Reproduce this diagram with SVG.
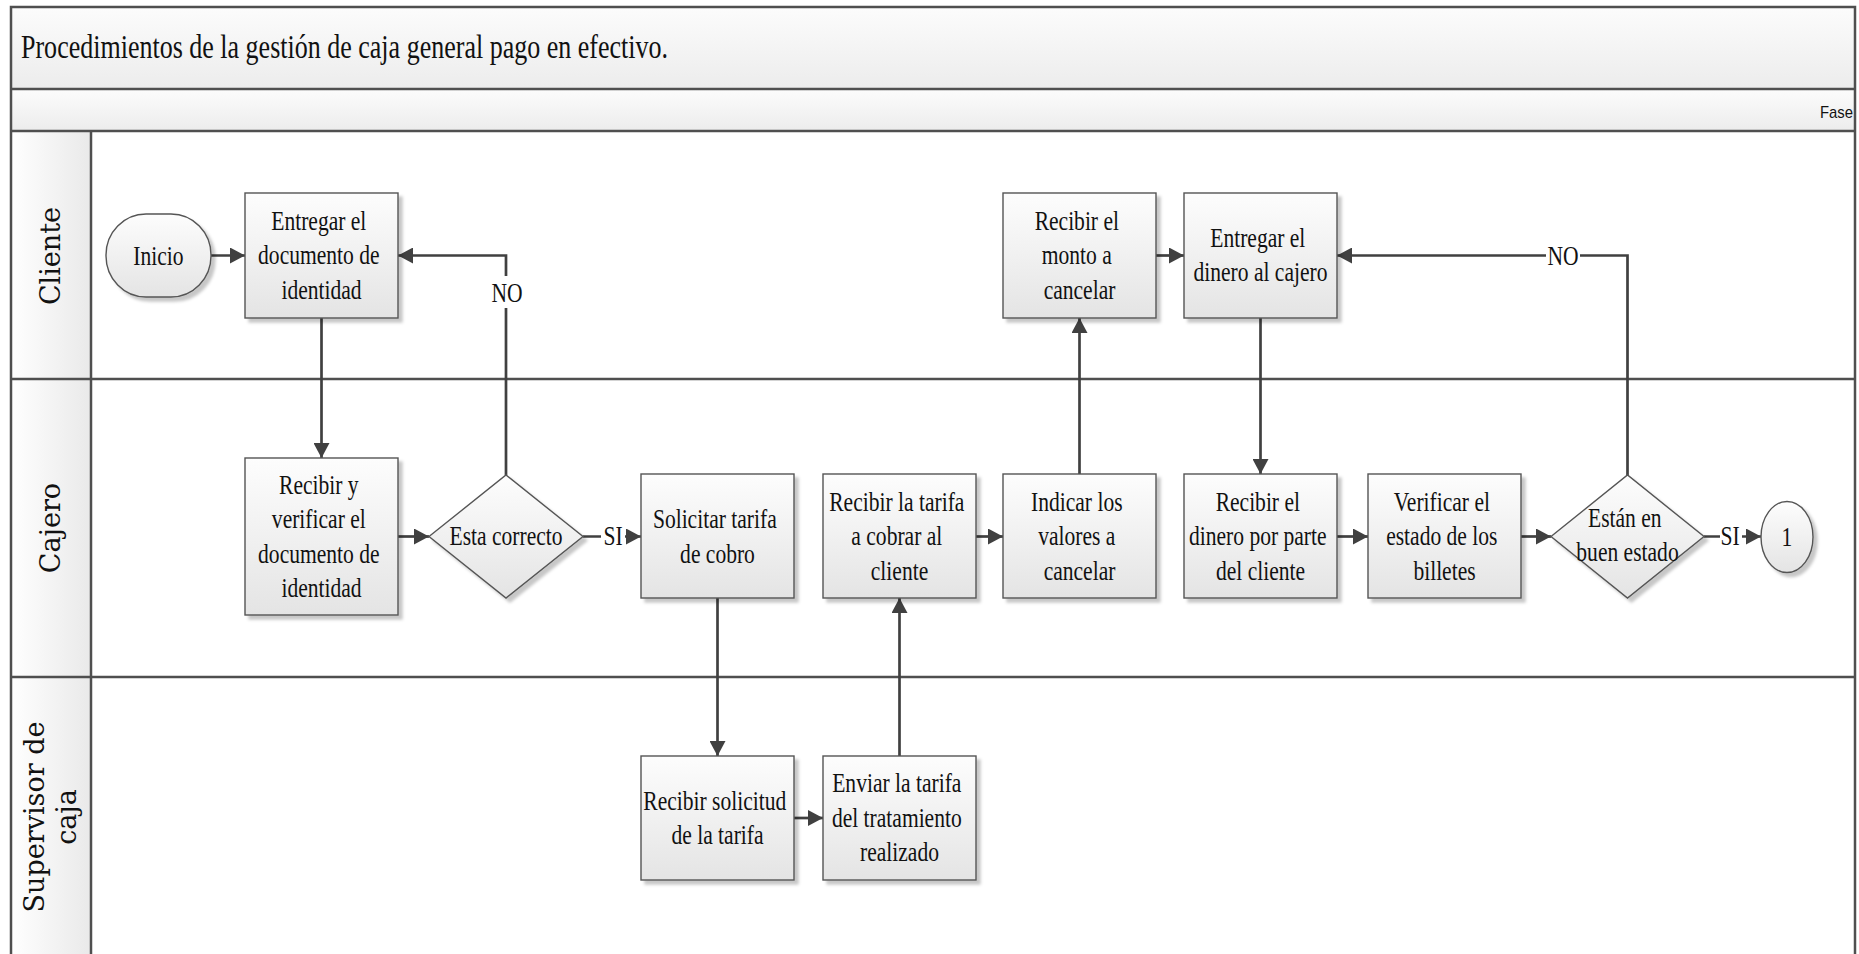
<svg xmlns="http://www.w3.org/2000/svg" width="1859" height="954" viewBox="0 0 1859 954">
  <defs>
    <linearGradient id="boxFill" x1="0" y1="0" x2="0" y2="1">
      <stop offset="0" stop-color="#fdfdfd"/>
      <stop offset="1" stop-color="#e4e4e4"/>
    </linearGradient>
    <linearGradient id="bandFill" x1="0" y1="0" x2="0" y2="1">
      <stop offset="0" stop-color="#fcfcfc"/>
      <stop offset="1" stop-color="#ececec"/>
    </linearGradient>
    <linearGradient id="laneHeadFill" x1="0" y1="0" x2="1" y2="0">
      <stop offset="0" stop-color="#ffffff"/>
      <stop offset="1" stop-color="#e9e9e9"/>
    </linearGradient>
    <filter id="shadow" x="-10%" y="-10%" width="130%" height="130%">
      <feDropShadow dx="4" dy="4" stdDeviation="1.5" flood-color="#000000" flood-opacity="0.22"/>
    </filter>
    <marker id="arrow" markerUnits="userSpaceOnUse" markerWidth="16" markerHeight="16" refX="15" refY="8" orient="auto">
      <path d="M0,0 L15,8 L0,16 z" fill="#404040"/>
    </marker>
  </defs>
  <style>
    .frame { fill: none; stroke: #4f4f4f; stroke-width: 2.5; }
    .box { fill: url(#boxFill); stroke: #555555; stroke-width: 1.4; filter: url(#shadow); }
    .t { font-family: "Liberation Serif", "Times New Roman", serif; font-size: 28px; fill: #111111; text-anchor: middle; }
    .lane { font-family: "DejaVu Serif", "Liberation Serif", serif; font-size: 27px; fill: #111111; text-anchor: middle; }
    .conn { fill: none; stroke: #404040; stroke-width: 2.7; }
    .lbl-bg { fill: #ffffff; }
  </style>

  <rect width="1859" height="954" fill="#ffffff"/>

  <!-- pool: title band, phase band, lane headers -->
  <g id="pool">
    <rect x="11" y="7" width="1844" height="82" fill="url(#bandFill)"/>
    <rect x="11" y="89" width="1844" height="42" fill="url(#bandFill)"/>
    <rect x="11" y="131" width="80" height="830" fill="url(#laneHeadFill)"/>
    <path class="frame" d="M11,960 V7 H1855 V960"/>
    <path class="frame" d="M11,89 H1855 M11,131 H1855 M11,379 H1855 M11,677 H1855 M91,131 V960"/>
    <text x="21" y="58" font-family="'Liberation Serif', 'Times New Roman', serif" font-size="34" fill="#111111" textLength="647" lengthAdjust="spacingAndGlyphs">Procedimientos de la gestión de caja general pago en efectivo.</text>
    <text x="1820" y="118" font-family="'Liberation Sans', Arial, sans-serif" font-size="17" fill="#111111" textLength="33" lengthAdjust="spacingAndGlyphs">Fase</text>
  </g>

  <g id="lane-cliente">
    <text class="lane" transform="translate(60,256) rotate(-90)">Cliente</text>
  </g>
  <g id="lane-cajero">
    <text class="lane" transform="translate(60,528) rotate(-90)">Cajero</text>
  </g>
  <g id="lane-supervisor">
    <text class="lane" transform="translate(44,817) rotate(-90)">Supervisor de</text>
    <text class="lane" transform="translate(76,817) rotate(-90)">caja</text>
  </g>

  <!-- connectors -->
  <g id="connectors">
    <path class="conn" marker-end="url(#arrow)" d="M211,255.5 H245"/>
    <path class="conn" marker-end="url(#arrow)" d="M321.5,318 V458"/>
    <path class="conn" marker-end="url(#arrow)" d="M398,536.5 H429"/>
    <path class="conn" marker-end="url(#arrow)" d="M506,475 V255.5 H398"/>
    <path class="conn" marker-end="url(#arrow)" d="M583,536.5 H641"/>
    <path class="conn" marker-end="url(#arrow)" d="M717.5,598 V756"/>
    <path class="conn" marker-end="url(#arrow)" d="M794,818 H823"/>
    <path class="conn" marker-end="url(#arrow)" d="M899.5,756 V598"/>
    <path class="conn" marker-end="url(#arrow)" d="M976,536.5 H1003"/>
    <path class="conn" marker-end="url(#arrow)" d="M1079.5,474 V318"/>
    <path class="conn" marker-end="url(#arrow)" d="M1156,255.5 H1184"/>
    <path class="conn" marker-end="url(#arrow)" d="M1260.5,318 V474"/>
    <path class="conn" marker-end="url(#arrow)" d="M1337,536.5 H1368"/>
    <path class="conn" marker-end="url(#arrow)" d="M1521,536.5 H1551"/>
    <path class="conn" marker-end="url(#arrow)" d="M1627.5,475 V255.5 H1337"/>
    <path class="conn" marker-end="url(#arrow)" d="M1704,536.5 H1761"/>

    <rect class="lbl-bg" x="495" y="276" width="24" height="32"/>
    <text class="t" transform="translate(507,0) scale(0.77,1)" y="302">NO</text>
    <rect class="lbl-bg" x="601" y="522" width="24" height="30"/>
    <text class="t" transform="translate(613,0) scale(0.77,1)" y="545.5">SI</text>
    <rect class="lbl-bg" x="1546" y="242" width="34" height="28"/>
    <text class="t" transform="translate(1563,0) scale(0.77,1)" y="265">NO</text>
    <rect class="lbl-bg" x="1720" y="522" width="22" height="30"/>
    <text class="t" transform="translate(1730,0) scale(0.77,1)" y="545.5">SI</text>
  </g>

  <!-- Cliente lane -->
  <g id="n-inicio">
    <rect class="box" x="106" y="214" width="105" height="83" rx="40" ry="41"/>
    <text class="t" transform="translate(158.5,0) scale(0.77,1)" y="265">Inicio</text>
  </g>
  <g id="n-entregar-documento">
    <rect class="box" x="245" y="193" width="153" height="125"/>
    <text class="t" transform="translate(321.5,0) scale(0.77,1)">
      <tspan x="0" y="230">Entregar el</tspan>
      <tspan x="0" y="264.5">documento de</tspan>
      <tspan x="0" y="299">identidad</tspan>
    </text>
  </g>
  <g id="n-recibir-monto">
    <rect class="box" x="1003" y="193" width="153" height="125"/>
    <text class="t" transform="translate(1079.5,0) scale(0.77,1)">
      <tspan x="0" y="230">Recibir el</tspan>
      <tspan x="0" y="264.5">monto a</tspan>
      <tspan x="0" y="299">cancelar</tspan>
    </text>
  </g>
  <g id="n-entregar-dinero">
    <rect class="box" x="1184" y="193" width="153" height="125"/>
    <text class="t" transform="translate(1260.5,0) scale(0.77,1)">
      <tspan x="0" y="247">Entregar el</tspan>
      <tspan x="0" y="281.5">dinero al cajero</tspan>
    </text>
  </g>

  <!-- Cajero lane -->
  <g id="n-recibir-verificar">
    <rect class="box" x="245" y="458" width="153" height="157"/>
    <text class="t" transform="translate(321.5,0) scale(0.77,1)">
      <tspan x="0" y="494">Recibir y</tspan>
      <tspan x="0" y="528.5">verificar el</tspan>
      <tspan x="0" y="563">documento de</tspan>
      <tspan x="0" y="597.5">identidad</tspan>
    </text>
  </g>
  <g id="n-esta-correcto">
    <polygon class="box" points="429,536.5 506,475 583,536.5 506,598"/>
    <text class="t" transform="translate(506,0) scale(0.77,1)" y="545.5">Esta correcto</text>
  </g>
  <g id="n-solicitar-tarifa">
    <rect class="box" x="641" y="474" width="153" height="124"/>
    <text class="t" transform="translate(717.5,0) scale(0.77,1)">
      <tspan x="0" y="528.5">Solicitar tarifa</tspan>
      <tspan x="0" y="563">de cobro</tspan>
    </text>
  </g>
  <g id="n-recibir-tarifa">
    <rect class="box" x="823" y="474" width="153" height="124"/>
    <text class="t" transform="translate(899.5,0) scale(0.77,1)">
      <tspan x="0" y="511">Recibir la tarifa</tspan>
      <tspan x="0" y="545.5">a cobrar al</tspan>
      <tspan x="0" y="580">cliente</tspan>
    </text>
  </g>
  <g id="n-indicar-valores">
    <rect class="box" x="1003" y="474" width="153" height="124"/>
    <text class="t" transform="translate(1079.5,0) scale(0.77,1)">
      <tspan x="0" y="511">Indicar los</tspan>
      <tspan x="0" y="545.5">valores a</tspan>
      <tspan x="0" y="580">cancelar</tspan>
    </text>
  </g>
  <g id="n-recibir-dinero">
    <rect class="box" x="1184" y="474" width="153" height="124"/>
    <text class="t" transform="translate(1260.5,0) scale(0.77,1)">
      <tspan x="0" y="511">Recibir el</tspan>
      <tspan x="0" y="545.5">dinero por parte</tspan>
      <tspan x="0" y="580">del cliente</tspan>
    </text>
  </g>
  <g id="n-verificar-billetes">
    <rect class="box" x="1368" y="474" width="153" height="124"/>
    <text class="t" transform="translate(1444.5,0) scale(0.77,1)">
      <tspan x="0" y="511">Verificar el</tspan>
      <tspan x="0" y="545.5">estado de los</tspan>
      <tspan x="0" y="580">billetes</tspan>
    </text>
  </g>
  <g id="n-buen-estado">
    <polygon class="box" points="1551,536.5 1627.5,475 1704,536.5 1627.5,598"/>
    <text class="t" transform="translate(1627.5,0) scale(0.77,1)">
      <tspan x="0" y="527">Están en</tspan>
      <tspan x="0" y="561">buen estado</tspan>
    </text>
  </g>
  <g id="n-conector-1">
    <ellipse class="box" cx="1787" cy="537" rx="26" ry="35.5"/>
    <text class="t" transform="translate(1787,0) scale(0.77,1)" y="546.5">1</text>
  </g>

  <!-- Supervisor de caja lane -->
  <g id="n-recibir-solicitud">
    <rect class="box" x="641" y="756" width="153" height="124"/>
    <text class="t" transform="translate(717.5,0) scale(0.77,1)">
      <tspan x="0" y="810">Recibir solicitud</tspan>
      <tspan x="0" y="844.5">de la tarifa</tspan>
    </text>
  </g>
  <g id="n-enviar-tarifa">
    <rect class="box" x="823" y="756" width="153" height="124"/>
    <text class="t" transform="translate(899.5,0) scale(0.77,1)">
      <tspan x="0" y="792.5">Enviar la tarifa</tspan>
      <tspan x="0" y="827">del tratamiento</tspan>
      <tspan x="0" y="861.5">realizado</tspan>
    </text>
  </g>
</svg>
